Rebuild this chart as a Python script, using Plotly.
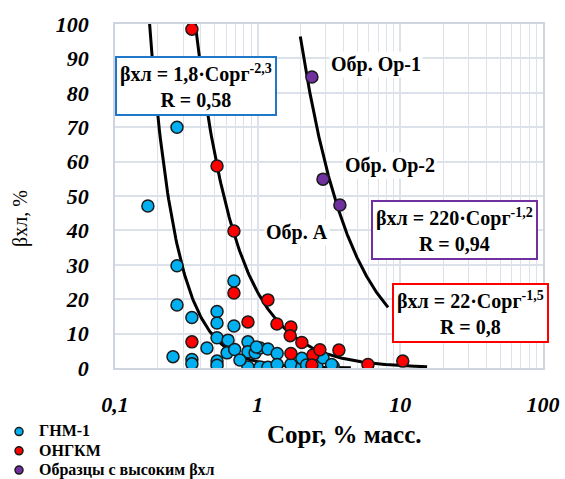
import numpy as np
import plotly.graph_objects as go

# ---- data ----
gnm_x = [0.170, 0.272, 0.272, 0.272, 0.346, 0.682, 0.519, 0.519, 0.682, 0.255,
         0.346, 0.346, 0.441, 0.519, 0.519, 0.519, 0.62, 0.61, 0.69, 0.855,
         0.855, 0.855, 0.751, 0.96, 1.04, 1.18, 1.04, 1.18, 1.37, 1.37,
         1.71, 2.04, 2.04, 2.44, 2.6, 2.87, 3.38, 3.3, 2.2, 0.98]
gnm_y = [47.1, 70.0, 29.7, 18.3, 14.7, 25.3, 16.4, 13.1, 12.2, 3.3,
         2.5, 1.2, 5.8, 8.8, 2.0, 0.8, 8.1, 4.4, 5.4, 7.6,
         4.7, 0.3, 2.3, 4.4, 5.8, 5.5, 0.3, 0.2, 4.2, 1.0,
         1.0, 0.2, 2.8, 0.2, 0.6, 3.0, 0.5, 1.0, 0.9, 6.1]

ongkm_x = [0.346, 0.519, 0.682, 0.682, 1.18, 0.855, 0.346, 1.365, 1.71, 1.69,
           2.04, 1.71, 2.44, 2.73, 3.71, 2.4, 5.93, 10.4]
ongkm_y = [98.5, 58.7, 39.8, 21.8, 19.8, 13.4, 7.6, 12.8, 11.9, 9.4,
           7.4, 4.2, 3.8, 5.3, 5.2, 0.9, 1.0, 2.0]

high_x = [2.40, 2.87, 3.77]
high_y = [84.6, 54.9, 47.4]

# trend lines: coefficient, exponent, x-range
trend_a = [1.8, 22.0, 220.0]
trend_b = [-2.3, -1.5, -1.2]
trend_xmin = [0.165, 0.35, 1.99]
trend_xmax = [4.5, 15.4, 8.2]

series_names = ["ГНМ-1", "ОНГКМ", "Образцы с высоким βхл"]
series_colors = ["#00b0f0", "#ff0000", "#7030a0"]

x_tickvals = [0.1, 1, 10, 100]
x_ticktext = ["0,1", "1", "10", "100"]
y_tickvals = list(range(0, 101, 10))

SERIF = "Liberation Serif, Times New Roman, serif"
GRID = "#dde2ea"

fig = go.Figure()

for a, b, x0, x1 in zip(trend_a, trend_b, trend_xmin, trend_xmax):
    xs = np.geomspace(x0, x1, 200)
    fig.add_trace(go.Scatter(x=xs, y=a * xs ** b, mode="lines",
                             line=dict(color="black", width=3),
                             showlegend=False, hoverinfo="skip"))

mk_line = dict(color="#1a1a1a", width=1.5)
for xs, ys, name, col in zip([gnm_x, ongkm_x, high_x], [gnm_y, ongkm_y, high_y],
                             series_names, series_colors):
    fig.add_trace(go.Scatter(x=xs, y=ys, mode="markers", name=name, legendgroup=name,
                             showlegend=False,
                             marker=dict(size=12, color=col, line=mk_line)))
    # legend entry with the smaller legend symbol of the reference
    fig.add_trace(go.Scatter(x=[None], y=[None], mode="markers",
                             name=f'<span style="font-size:16px">{name}</span>',
                             legendgroup=name,
                             marker=dict(size=8, color=col, line=dict(color="#1a1a1a", width=1.5))))

fig.update_xaxes(type="log", range=[-1, 2], tickvals=x_tickvals, ticktext=x_ticktext,
                 showgrid=True, gridcolor=GRID, gridwidth=1.5,
                 minor=dict(dtick="D1", showgrid=True, gridcolor=GRID, gridwidth=1),
                 showline=True, linecolor="#cfd5de", linewidth=1.5, mirror=True,
                 zeroline=False, ticklabelstandoff=16, automargin=False,
                 tickfont=dict(family=SERIF, size=22, color="black", weight="bold", style="italic"))
fig.update_yaxes(range=[0, 100], tickvals=y_tickvals,
                 showgrid=True, gridcolor=GRID, gridwidth=1.5,
                 showline=True, linecolor="#cfd5de", linewidth=1.5, mirror=True,
                 zeroline=False, ticklabelstandoff=20, automargin=False,
                 tickfont=dict(family=SERIF, size=22, color="black", weight="bold", style="italic"))

# y-axis title (placed slightly below centre, as in the reference)
fig.add_annotation(xref="paper", yref="paper", x=-0.222, y=0.436, textangle=-90,
                   xanchor="center", yanchor="middle", showarrow=False,
                   text="βхл, %", font=dict(family=SERIF, size=20, color="black"))

def box(text, x, y, color):
    fig.add_annotation(xref="paper", yref="paper", x=x, y=y, text=text, showarrow=False,
                       xanchor="center", yanchor="middle",
                       font=dict(family=SERIF, size=20, color="black", weight="bold"),
                       bgcolor="white", bordercolor=color, borderwidth=2, borderpad=3,
                       align="center")

box("βхл = 1,8·Сорг<sup>-2,3</sup><br>R = 0,58", 0.189, 0.821, "#1f78c8")
box("βхл = 220·Сорг<sup>-1,2</sup><br>R = 0,94", 0.794, 0.401, "#7030a0")
box("βхл = 22·Сорг<sup>-1,5</sup><br>R = 0,8", 0.830, 0.159, "#ff0000")

def label(text, x, y):
    fig.add_annotation(xref="paper", yref="paper", x=x, y=y, text=text, showarrow=False,
                       xanchor="center", yanchor="middle",
                       font=dict(family=SERIF, size=20, color="black", weight="bold"),
                       bgcolor="white")

label("Обр. Ор-1", 0.610, 0.881)
label("Обр. Ор-2", 0.643, 0.590)
label("Обр. А", 0.425, 0.395)

fig.add_annotation(xref="paper", yref="paper", x=0.537, y=-0.192,
                   xanchor="center", yanchor="middle",
                   text="Сорг, % масс.", showarrow=False,
                   font=dict(family=SERIF, size=25, color="black", weight="bold"))

fig.update_layout(
    width=565, height=479,
    margin=dict(l=115, r=22, t=24, b=111, autoexpand=False),
    paper_bgcolor="white", plot_bgcolor="white",
    legend=dict(x=-0.271, y=-0.1424,
                xanchor="left", yanchor="top", tracegroupgap=0,
                font=dict(family=SERIF, size=12.5, color="black", weight="bold"),
                itemsizing="trace", itemwidth=30, bgcolor="rgba(0,0,0,0)"),
    showlegend=True,
)

fig.write_html("out.html")
